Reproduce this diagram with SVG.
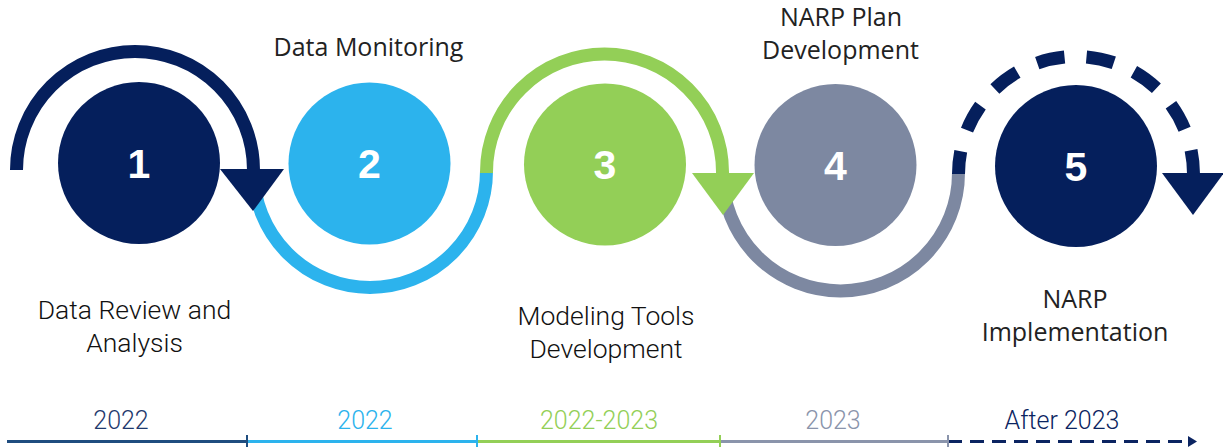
<svg xmlns="http://www.w3.org/2000/svg" width="1223" height="447" viewBox="0 0 1223 447">
<style>
.lbl{font-family:"Open Sans","Liberation Sans",sans-serif;font-size:25px;fill:#222;text-anchor:middle}
.lbl2{font-family:Roboto,"Liberation Sans",sans-serif;font-weight:300;font-size:26.5px;fill:#111;text-anchor:middle}
.num{font-family:"Liberation Sans",Arial,sans-serif;font-weight:bold;font-size:41px;fill:#fff;text-anchor:middle}
.yr{font-family:Roboto,"Liberation Sans",sans-serif;font-weight:300;font-size:25px;text-anchor:middle}
.arc{fill:none;stroke-width:13}
</style>
<rect width="1223" height="447" fill="#fff"/>
<g id="connectors">
  <path class="arc" stroke="#2cb3ed" d="M253.5,170 L253.5,171 A116.5,116.5 0 0 0 486.5,171"/>
  <path class="arc" stroke="#7d88a1" d="M722.5,173 A118,118 0 0 0 958.5,173"/>
  <path class="arc" stroke="#051f5c" d="M16.5,170 A118.5,118.5 0 0 1 253.5,170 L253.5,172"/>
  <polygon fill="#051f5c" points="220,169 284,169 253,211"/>
  <path class="arc" stroke="#93cf57" d="M486.5,173 L486.5,172 A118,118 0 0 1 722.5,172 L722.5,174"/>
  <polygon fill="#93cf57" points="692,173 754,173 723,215"/>
  <path class="arc" stroke="#051f5c" stroke-dasharray="28 22" stroke-dashoffset="5" d="M958.5,174 A117.5,117.5 0 0 1 1193.5,174"/>
  <polygon fill="#051f5c" points="1162,173 1224,173 1193,215"/>
</g>
<g id="node1">
  <circle cx="139" cy="163" r="81" fill="#051f5c"/>
  <text class="num" x="139" y="178">1</text>
  <text class="lbl2" x="134.5" y="319">Data Review and</text>
  <text class="lbl2" x="134.5" y="352">Analysis</text>
</g>
<g id="node2">
  <circle cx="369.5" cy="163.5" r="81" fill="#2cb3ed"/>
  <text class="num" x="369.5" y="178">2</text>
  <text class="lbl" x="368.5" y="56">Data Monitoring</text>
</g>
<g id="node3">
  <circle cx="605" cy="164.5" r="81" fill="#93cf57"/>
  <text class="num" x="605" y="179">3</text>
  <text class="lbl2" x="606" y="325">Modeling Tools</text>
  <text class="lbl2" x="606" y="358">Development</text>
</g>
<g id="node4">
  <circle cx="835.5" cy="165" r="81" fill="#7d88a1"/>
  <text class="num" x="835.5" y="180">4</text>
  <text class="lbl" x="841" y="26">NARP Plan</text>
  <text class="lbl" x="840.5" y="59">Development</text>
</g>
<g id="node5">
  <circle cx="1076" cy="166" r="81" fill="#051f5c"/>
  <text class="num" x="1076" y="181">5</text>
  <text class="lbl" x="1075" y="308">NARP</text>
  <text class="lbl" x="1075" y="341">Implementation</text>
</g>
<g id="timeline">
  <line x1="7" y1="441.5" x2="247" y2="441.5" stroke="#1f4d7f" stroke-width="3"/>
  <line x1="247" y1="441.5" x2="477" y2="441.5" stroke="#2cb3ed" stroke-width="3"/>
  <line x1="477" y1="441.5" x2="720" y2="441.5" stroke="#93cf57" stroke-width="3"/>
  <line x1="720" y1="441.5" x2="948" y2="441.5" stroke="#8a94ab" stroke-width="3"/>
  <line x1="948" y1="441.5" x2="1190" y2="441.5" stroke="#0b2461" stroke-width="3" stroke-dasharray="14 8"/>
  <polygon fill="#0b2461" points="1188,436 1197,441.5 1188,447"/>
  <line x1="247" y1="435" x2="247" y2="447" stroke="#1f4d7f" stroke-width="2"/>
  <line x1="477" y1="435" x2="477" y2="447" stroke="#2cb3ed" stroke-width="2"/>
  <line x1="720" y1="435" x2="720" y2="447" stroke="#93cf57" stroke-width="2"/>
  <line x1="948" y1="435" x2="948" y2="447" stroke="#8a94ab" stroke-width="2"/>
  <text class="yr" x="121" y="429" fill="#1f3a6e">2022</text>
  <text class="yr" x="365" y="429" fill="#2cb3ed">2022</text>
  <text class="yr" x="599" y="429" fill="#93cf57">2022-2023</text>
  <text class="yr" x="833" y="429" fill="#8a94ab">2023</text>
  <text class="yr" x="1062" y="429" fill="#0b2461">After 2023</text>
</g>
</svg>
